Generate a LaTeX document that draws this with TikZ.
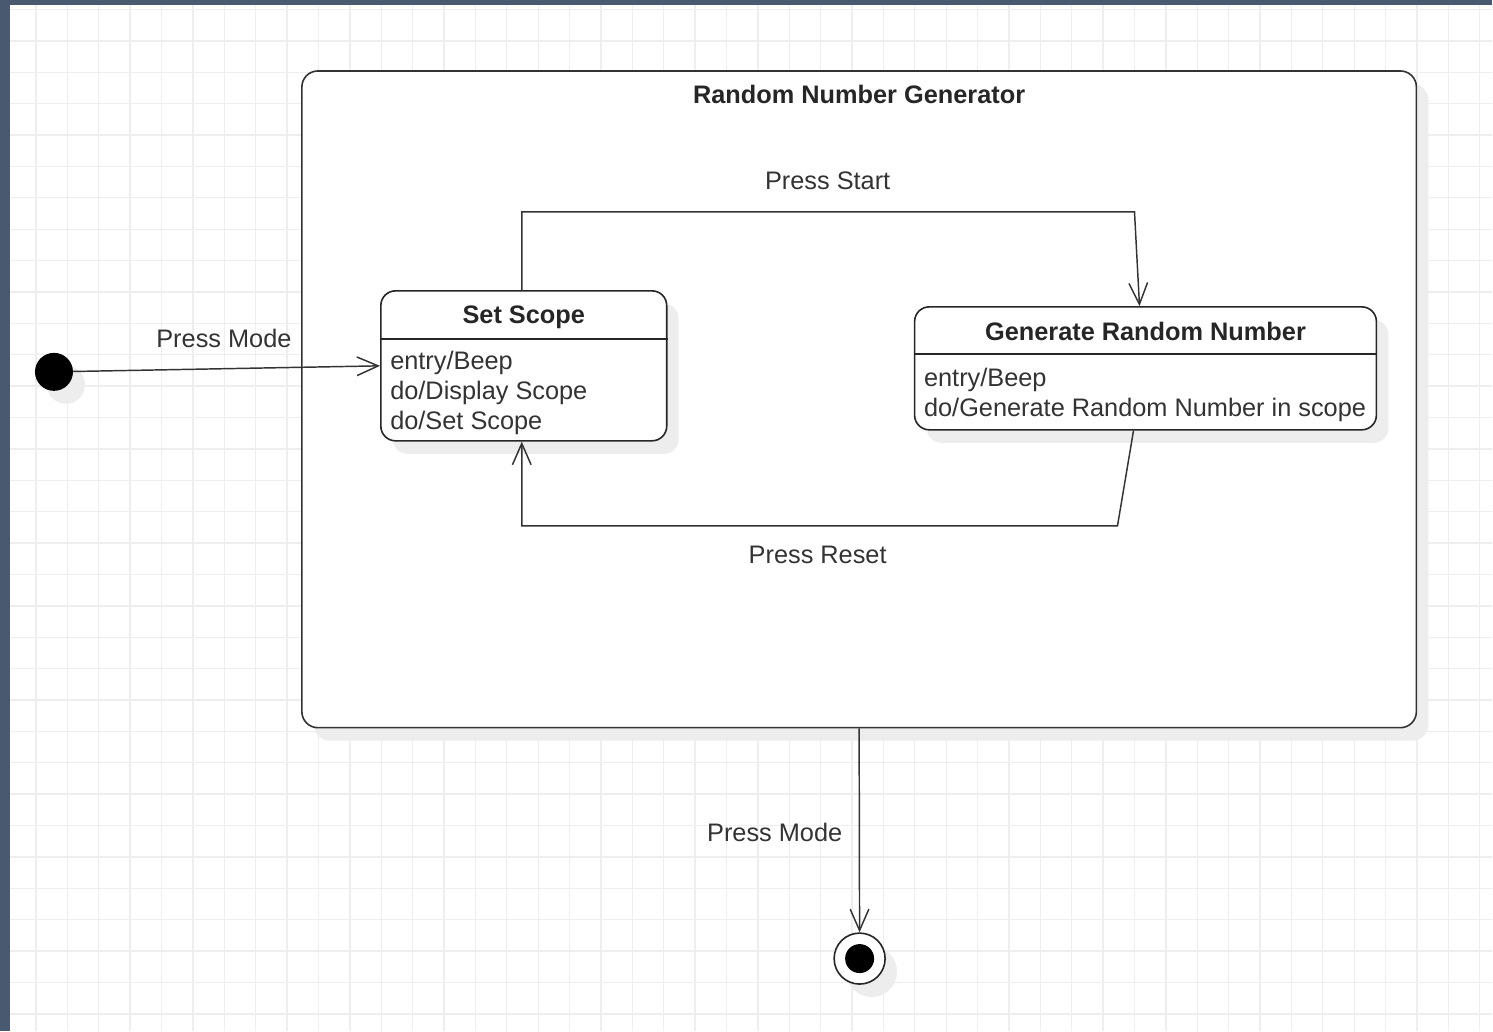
\documentclass[tikz,border=0pt]{standalone}
\usepackage{fontspec}
\setmainfont{Liberation Sans}
\usetikzlibrary{arrows.meta, shadows}

\definecolor{framebg}{RGB}{72,89,112}
\definecolor{gridline}{RGB}{238,238,238}
\definecolor{inkgray}{RGB}{51,51,51}

\begin{document}
\begin{tikzpicture}[
    x=0.75pt, y=-0.75pt,
    every node/.style={font=\fontsize{19}{22.5}\selectfont, text=inkgray, inner sep=0pt},
    boxshadow/.style={drop shadow={shadow xshift=9pt, shadow yshift=-9.75pt, fill=black!7, opacity=1}},
    container/.style={rectangle, draw=black!80, line width=1.2pt, rounded corners=12pt, fill=white, boxshadow},
    statebox/.style={rectangle, draw=black!85, line width=1.2pt, rounded corners=11pt, fill=white, boxshadow},
    statetitle/.style={font=\bfseries\fontsize{19}{22.5}\selectfont, text=black!85},
    statebody/.style={align=left, anchor=west},
    sepline/.style={draw=black!85, line width=1.2pt},
    trans/.style={draw=inkgray, line width=1.1pt, -{Straight Barb[length=16pt, width=14pt]}}
]
% Canvas and grid
\fill[framebg] (0,0) rectangle (1493,1031);
\fill[white] (10,5) rectangle (1493,1031);
\foreach \gx in {0,...,46}
    \draw[gridline, line width=1pt] ({36+31.4*\gx},5) -- ({36+31.4*\gx},1031);
\foreach \gy in {0,...,32}
    \draw[gridline, line width=1pt] (10,{9.5+31.4*\gy}) -- (1493,{9.5+31.4*\gy});
\useasboundingbox (0,0) rectangle (1493,1031);

% Composite state
\node[container, minimum width=836.25pt, minimum height=492.75pt] (rng) at (859.5,399.5) {};
\node[statetitle] (rngtitle) at ([yshift=-18pt]rng.north) {Random Number Generator};

% Set Scope state
\node[statebox, minimum width=214.5pt, minimum height=112.5pt] (setscope) at (524,366) {};
\node[statetitle] (setscopetitle) at ([yshift=-20.25pt]setscope.north) {Set Scope};
\draw[sepline] ([yshift=-36.75pt]setscope.north west) -- ([yshift=-36.75pt]setscope.north east);
\node[statebody] (setscopebody) at ([xshift=7.5pt, yshift=-20.25pt]setscope.west)
    {entry/Beep\\do/Display Scope\\do/Set Scope};

% Generate Random Number state
\node[statebox, minimum width=346.5pt, minimum height=92.25pt] (generate) at (1146,368.5) {};
\node[statetitle] (generatetitle) at ([yshift=-18.75pt]generate.north) {Generate Random Number};
\draw[sepline] ([yshift=-36pt]generate.north west) -- ([yshift=-36pt]generate.north east);
\node[statebody] (generatebody) at ([xshift=7.5pt, yshift=-20.25pt]generate.west)
    {entry/Beep\\do/Generate Random Number in scope};

% Pseudo states
\node[circle, fill=black, minimum size=28.5pt, boxshadow] (init) at (54,372) {};
\node[circle, draw=black!85, line width=1.2pt, fill=white, minimum size=38.25pt, boxshadow] (final) at (860,959) {};
\node[circle, fill=black, minimum size=21.75pt] (finaldot) at (final) {};

% Transitions
\coordinate (startbend) at (1135,212);
\coordinate (resetbend) at (1118,526);
\draw[trans] (init) -- (setscope.west);
\draw[trans] ([xshift=-1.5pt]setscope.north) |- (startbend) -- ([xshift=-4.5pt]generate.north);
\draw[trans] ([xshift=-9pt]generate.south) -- (resetbend) -| ([xshift=-1.5pt]setscope.south);
\draw[trans] (rng.south) -- (final);

% Transition labels
\node (lblmode) at (224,339) {Press Mode};
\node (lblstart) at (828,181) {Press Start};
\node (lblreset) at (818,555) {Press Reset};
\node (lblexit) at (775,833) {Press Mode};
\end{tikzpicture}
\end{document}
